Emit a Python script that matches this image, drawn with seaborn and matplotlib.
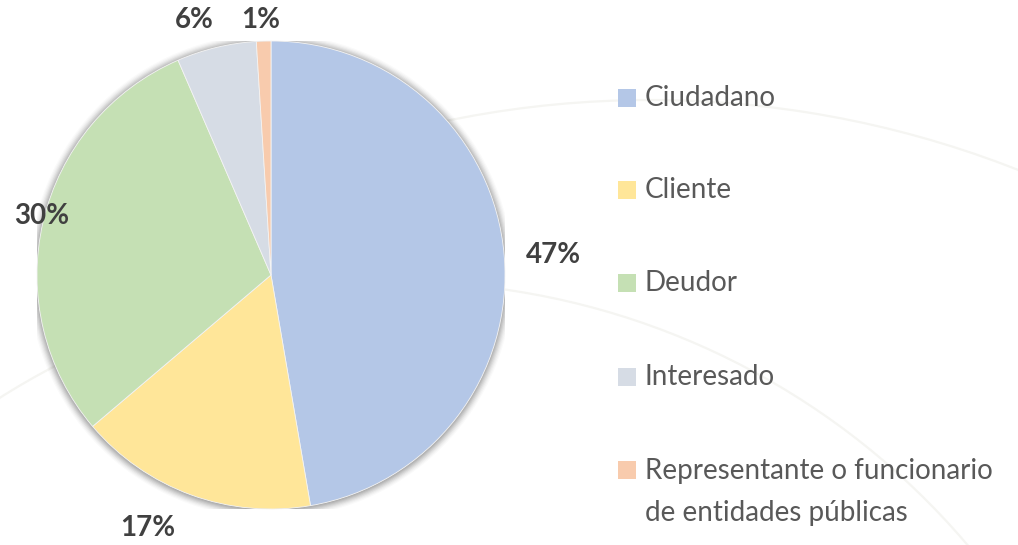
import numpy as np
import matplotlib
matplotlib.use("Agg")
import matplotlib.pyplot as plt
from matplotlib.patches import Circle, Rectangle, Arc
import seaborn as sns

# shares (in %)
categories = ["Ciudadano", "Cliente", "Deudor", "Interesado",
              "Representante o funcionario\nde entidades públicas"]
shares = [47.3, 16.5, 29.7, 5.5, 1.0]
pct_labels = ["47%", "17%", "30%", "6%", "1%"]

colors = sns.color_palette(["#B4C7E7", "#FFE699", "#C5E0B4", "#D6DCE5", "#F8CBAD"])

sns.set_style("white")
plt.rcParams["font.family"] = ["Lato", "DejaVu Sans"]

W, H = 1018, 545
fig = plt.figure(figsize=(W / 100, H / 100), dpi=100)

# faint decorative arcs in the background (pixel coords, y down)
bg = fig.add_axes([0, 0, 1, 1])
bg.set_xlim(0, W)
bg.set_ylim(H, 0)
bg.axis("off")
bg.add_patch(Arc((650, 1104), 2008, 2008, theta1=-102, theta2=-60, color="#f5f5f2", lw=1.6))
bg.add_patch(Arc((399, 1028), 1492, 1492, theta1=-124, theta2=-38, color="#f5f5f2", lw=1.6))

# pie axes: centre (271, 275), radius 234 px
cx, cy, r = 271, 275, 234
ax = fig.add_axes([(cx - r) / W, (H - cy - r) / H, 2 * r / W, 2 * r / H])

# soft shadow round the pie
for k, a in zip(np.linspace(1.035, 1.0, 8), np.linspace(0.02, 0.08, 8)):
    ax.add_patch(Circle((0, -0.004), k, color="black", alpha=a, lw=0, zorder=0))

wedges, _ = ax.pie(shares, colors=colors, startangle=90, counterclock=False,
                   wedgeprops=dict(linewidth=0.6, edgecolor="#f4f4f4"))
for w in wedges:
    w.set_zorder(2)

# label spots (centre of text, in radius units)
label_pos = [(1.205, 0.085), (-0.526, -1.081), (-0.979, 0.252),
             (-0.329, 1.090), (-0.043, 1.090)]
for txt, (x, y) in zip(pct_labels, label_pos):
    ax.text(x, y, txt, ha="center", va="center", fontsize=20, fontweight="bold",
            color="#404040", clip_on=False, zorder=5)
ax.set_xlim(-1, 1)
ax.set_ylim(-1, 1)
ax.set_aspect("equal")
ax.axis("off")

# legend drawn by hand so the square sits on the first line
rows_y = [98, 190, 283, 377, 470]
for lab, col, y in zip(categories, colors, rows_y):
    bg.add_patch(Rectangle((618, y - 9), 18, 18, color=col, lw=0))
    if "\n" in lab:
        bg.text(645, y - 12, lab, ha="left", va="top", fontsize=20,
                color="#595959", linespacing=1.75)
    else:
        bg.text(645, y, lab, ha="left", va="center", fontsize=20, color="#595959")

fig.savefig("out.png", dpi=100)
